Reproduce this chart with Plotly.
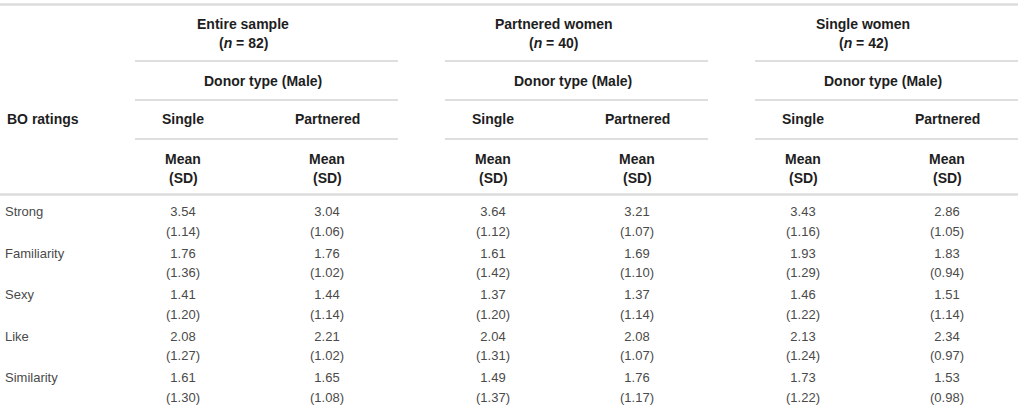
import plotly.graph_objects as go

# ---- data ----
ratings = ["Strong", "Familiarity", "Sexy", "Like", "Similarity"]
groups = ["Entire sample", "Partnered women", "Single women"]
group_n = [82, 40, 42]
donor_types = ["Single", "Partnered"]

entire_single_mean = [3.54, 1.76, 1.41, 2.08, 1.61]
entire_single_sd = [1.14, 1.36, 1.20, 1.27, 1.30]
entire_partnered_mean = [3.04, 1.76, 1.44, 2.21, 1.65]
entire_partnered_sd = [1.06, 1.02, 1.14, 1.02, 1.08]

pw_single_mean = [3.64, 1.61, 1.37, 2.04, 1.49]
pw_single_sd = [1.12, 1.42, 1.20, 1.31, 1.37]
pw_partnered_mean = [3.21, 1.69, 1.37, 2.08, 1.76]
pw_partnered_sd = [1.07, 1.10, 1.14, 1.07, 1.17]

sw_single_mean = [3.43, 1.93, 1.46, 2.13, 1.73]
sw_single_sd = [1.16, 1.29, 1.22, 1.24, 1.22]
sw_partnered_mean = [2.86, 1.83, 1.51, 2.34, 1.53]
sw_partnered_sd = [1.05, 0.94, 1.14, 0.97, 0.98]

columns = [
    (entire_single_mean, entire_single_sd),
    (entire_partnered_mean, entire_partnered_sd),
    (pw_single_mean, pw_single_sd),
    (pw_partnered_mean, pw_partnered_sd),
    (sw_single_mean, sw_single_sd),
    (sw_partnered_mean, sw_partnered_sd),
]

# ---- layout (pixel coordinates) ----
W, H = 1024, 411
col_x = [183, 327, 493, 637, 803, 947]
group_title_x = [243, 553, 863]
donor_x = [263, 573, 883]
group_line = [(135, 398), (445, 708), (755, 1018)]
row_y0, row_dy, sd_dy = 213, 41.5, 19.5

FONT = "Liberation Sans, Arial, Helvetica, sans-serif"
HEAD = "#1e1e1e"
BODY = "#4a4a4a"

fig = go.Figure()

row_y = [row_y0 + row_dy * i for i in range(len(ratings))]

# row labels
fig.add_trace(go.Scatter(
    x=[5] * len(ratings), y=row_y, mode="text", text=ratings,
    textposition="middle right",
    textfont=dict(family=FONT, size=13, color=BODY),
    hoverinfo="skip", showlegend=False))

for cx, (means, sds) in zip(col_x, columns):
    fig.add_trace(go.Scatter(
        x=[cx] * len(means), y=row_y, mode="text",
        text=[f"{m:.2f}" for m in means],
        textposition="middle center",
        textfont=dict(family=FONT, size=13, color=BODY),
        hoverinfo="skip", showlegend=False))
    fig.add_trace(go.Scatter(
        x=[cx] * len(sds), y=[y + sd_dy for y in row_y], mode="text",
        text=[f"({s:.2f})" for s in sds],
        textposition="middle center",
        textfont=dict(family=FONT, size=13, color=BODY),
        hoverinfo="skip", showlegend=False))

ann = []
def txt(x, y, s, anchor="center", bold=True):
    ann.append(dict(x=x, y=y, xref="x", yref="y", text=(f"<b>{s}</b>" if bold else s),
                    showarrow=False, xanchor=anchor, yanchor="middle",
                    font=dict(family=FONT, size=14, color=HEAD)))

txt(5, 119, "BO ratings", anchor="left")
for g, n, gx, dx in zip(groups, group_n, group_title_x, donor_x):
    txt(gx, 24, g)
    txt(gx, 43, f"(<i>n</i> = {n})")
    txt(dx, 81, "Donor type (Male)")
for i, cx in enumerate(col_x):
    txt(cx, 119, donor_types[i % 2])
    txt(cx, 159, "Mean")
    txt(cx, 178, "(SD)")

shapes = []
def hline(x0, x1, y, color, w):
    shapes.append(dict(type="line", xref="x", yref="y", x0=x0, x1=x1, y0=y, y1=y,
                       line=dict(color=color, width=w)))

hline(0, 1018, 4.5, "#dcdcdc", 2.5)
hline(0, 1018, 194.5, "#dcdcdc", 2.5)
for (a, b) in group_line:
    for y in (61, 100, 139):
        hline(a, b, y, "#bdbdbd", 1)

fig.update_layout(
    width=W, height=H, margin=dict(l=0, r=0, t=0, b=0),
    paper_bgcolor="white", plot_bgcolor="white",
    xaxis=dict(range=[0, W], visible=False, fixedrange=True),
    yaxis=dict(range=[H, 0], visible=False, fixedrange=True),
    annotations=ann, shapes=shapes, showlegend=False,
)

fig.write_html("out.html", config={"displayModeBar": False},
               post_script="document.body.style.margin='0';document.body.style.overflow='hidden';")
